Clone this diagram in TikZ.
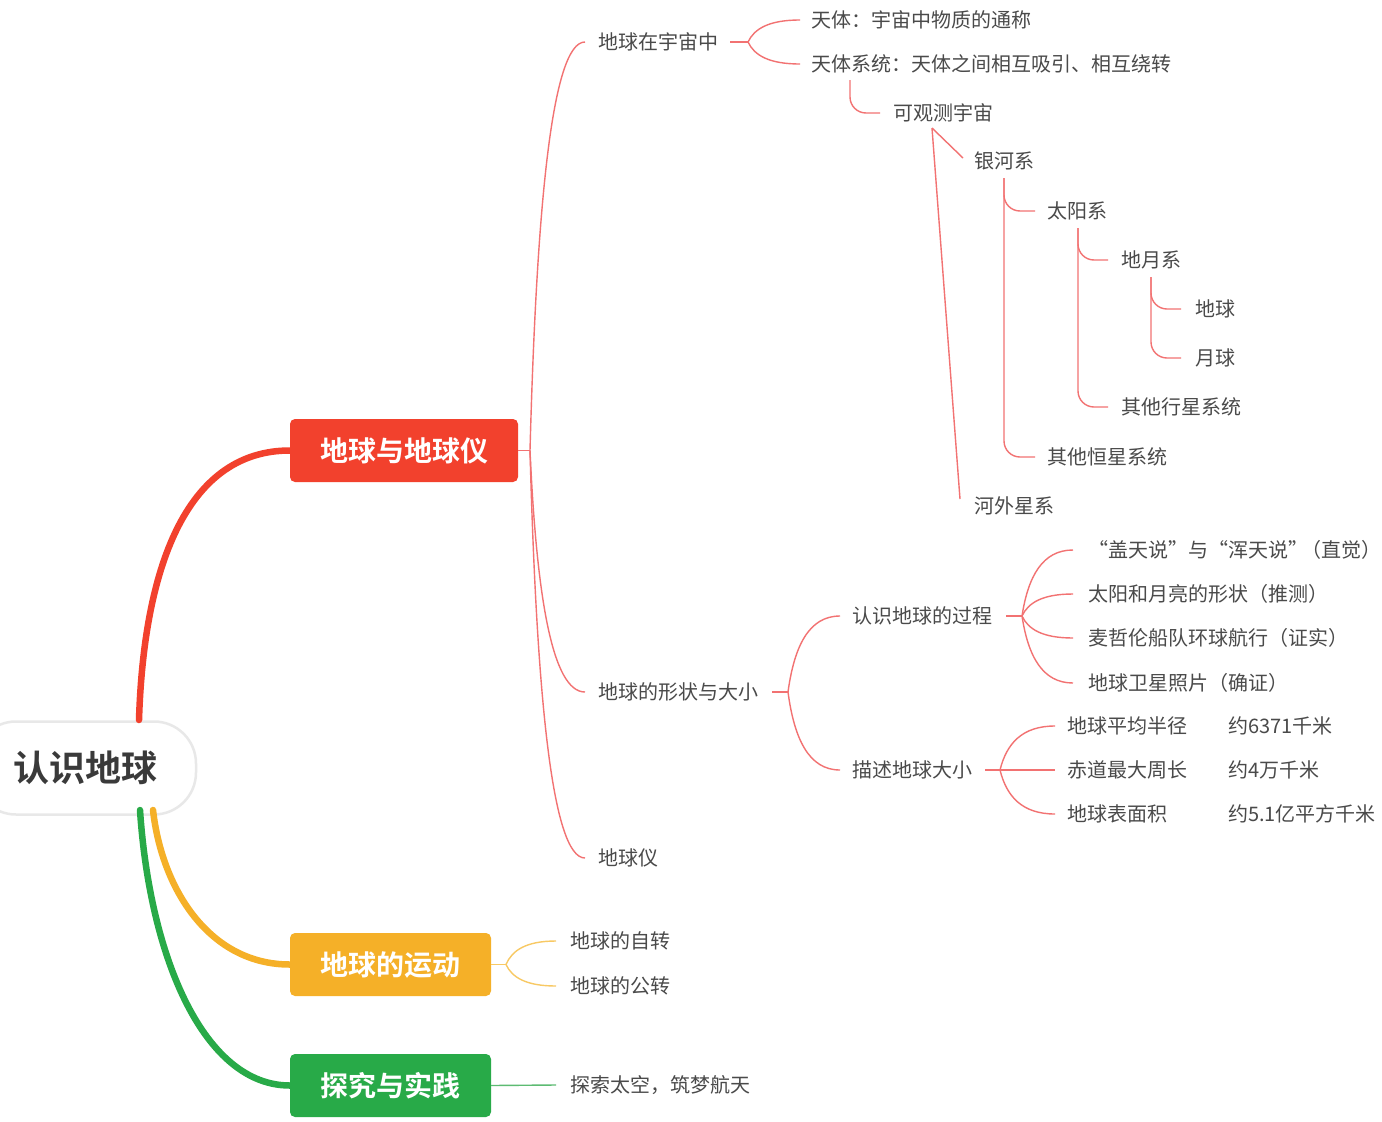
\documentclass[tikz,border=0pt]{standalone}
\usepackage{fontspec}
\setmainfont{Noto Sans CJK SC}[BoldFont={Noto Sans CJK SC Bold}]
\usetikzlibrary{calc}
\definecolor{mmred}{HTML}{F2412D}
\definecolor{thinred}{HTML}{F27272}
\definecolor{mmorange}{HTML}{F5B028}
\definecolor{thinorange}{HTML}{F8C964}
\definecolor{mmgreen}{HTML}{28AA48}
\definecolor{thingreen}{HTML}{5DBB72}
\definecolor{txtgray}{HTML}{4A4A4A}
\definecolor{roottxt}{HTML}{3A3A3A}
\tikzset{
  lbl/.style={anchor=west, inner sep=0pt, font=\fontsize{20}{24}\selectfont, text=txtgray, text height=16.6pt, text depth=1.4pt},
  rootbox/.style={draw=black!9, line width=2.5pt, fill=white, rounded corners=42pt, minimum width=222pt, minimum height=93pt, inner sep=0pt, font=\bfseries\fontsize{36}{40}\selectfont, text=roottxt, text height=30pt, text depth=2.5pt},
  boxnode/.style={rounded corners=5pt, inner sep=0pt, minimum height=63pt, text=white, font=\bfseries\fontsize{28}{32}\selectfont, text height=23pt, text depth=2pt},
  rline/.style={draw=thinred, line width=1.4pt},
  oline/.style={draw=thinorange, line width=1.4pt},
  gline/.style={draw=thingreen, line width=1.4pt},
  thick/.style={line width=6.5pt, line cap=round}
}
\newcommand\mmedge[3][rline]{\draw[#1] let \p1=(#2), \p2=(#3) in (\p1) .. controls ({\x1+0.12*(\x2-\x1)},{\y1+0.6*(\y2-\y1)}) and ({\x1+0.4*(\x2-\x1)},\y2) .. (\p2);}
\newcommand\mmL[2]{\draw[rline, rounded corners=16pt] (#1) |- (#2);}
\begin{document}
\begin{tikzpicture}[x=1pt,y=-1pt]
\useasboundingbox[fill=white] (0,0) rectangle (1382,1122);
% root and main boxes
\node[rootbox] (root) at (85,768) {认识地球};
\node[boxnode, fill=mmred, minimum width=228pt] (b1) at (404,450.5) {地球与地球仪};
\node[boxnode, fill=mmorange, minimum width=201pt] (b2) at (390.5,964.5) {地球的运动};
\node[boxnode, fill=mmgreen, minimum width=201pt] (b3) at (390.5,1085.5) {探究与实践};
% thick connectors
\coordinate (rT) at (139,720);
\coordinate (rO) at (153,810);
\coordinate (rG) at (140,810);
\draw[thick, mmgreen] (rG) .. controls (150,960) and (205,1085.5) .. (b3.west);
\draw[thick, mmorange] (rO) .. controls (162,890) and (210,964.5) .. (b2.west);
\draw[thick, mmred] (rT) .. controls (144,560) and (190,450.5) .. (b1.west);
% labels
\node[lbl] (n1) at (598,42) {地球在宇宙中};
\node[lbl] (n11) at (811,20) {天体：宇宙中物质的通称};
\node[lbl] (n12) at (811,64) {天体系统：天体之间相互吸引、相互绕转};
\node[lbl] (n121) at (893,113) {可观测宇宙};
\node[lbl] (n1211) at (974,161) {银河系};
\node[lbl] (n12111) at (1047,211) {太阳系};
\node[lbl] (n121111) at (1121,260) {地月系};
\node[lbl] (e1) at (1195,309) {地球};
\node[lbl] (e2) at (1195,358) {月球};
\node[lbl] (n121112) at (1121,407) {其他行星系统};
\node[lbl] (n12112) at (1047,457) {其他恒星系统};
\node[lbl] (n1212) at (974,506) {河外星系};
\node[lbl] (n2) at (598,692) {地球的形状与大小};
\node[lbl] (n21) at (852,616) {认识地球的过程};
\node[lbl] (p1) at (1088,550) {“盖天说”与“浑天说”\kern-7pt（直觉）};
\node[lbl] (p2) at (1088,594) {太阳和月亮的形状（推测）};
\node[lbl] (p3) at (1088,638) {麦哲伦船队环球航行（证实）};
\node[lbl] (p4) at (1088,683) {地球卫星照片（确证）};
\node[lbl] (n22) at (852,770) {描述地球大小};
\node[lbl] (s1) at (1067,726) {\makebox[161pt][l]{地球平均半径}约6371千米};
\node[lbl] (s2) at (1067,770) {\makebox[161pt][l]{赤道最大周长}约4万千米};
\node[lbl] (s3) at (1067,814) {\makebox[161pt][l]{地球表面积}约5.1亿平方千米};
\node[lbl] (n3) at (598,858) {地球仪};
\node[lbl] (m1) at (570,941) {地球的自转};
\node[lbl] (m2) at (570,986) {地球的公转};
\node[lbl] (x1) at (570,1085) {探索太空，筑梦航天};
% junctions
\coordinate (jA) at (530,450.5);
\coordinate (jB) at (748,42);
\coordinate (jC) at (788,692);
\coordinate (jD) at (1022,616);
\coordinate (jE) at (1000,770);
\coordinate (jF) at (506,964.5);
\coordinate (c12) at (850,80);
\coordinate (c121) at (932,128);
\coordinate (c1211) at (1004,178);
\coordinate (c12111) at (1078,228);
\coordinate (c121111) at (1151,277);
% red branches
\draw[rline] (b1.east) -- (jA);
\mmedge{jA}{[xshift=-13pt]n1.west}
\mmedge{jA}{[xshift=-13pt]n2.west}
\mmedge{jA}{[xshift=-13pt]n3.west}
\draw[rline] ([xshift=12pt]n1.east) -- (jB);
\mmedge{jB}{[xshift=-11pt]n11.west}
\mmedge{jB}{[xshift=-11pt]n12.west}
\mmL{c12}{[xshift=-13pt]n121.west}
\draw[rline] (c121) -- ([xshift=-11pt,yshift=3pt]n1211.west);
\draw[rline] (c121) -- ([xshift=-14pt,yshift=7pt]n1212.west);
\mmL{c1211}{[xshift=-12pt]n12111.west}
\mmL{c1211}{[xshift=-12pt]n12112.west}
\mmL{c12111}{[xshift=-13pt]n121111.west}
\mmL{c12111}{[xshift=-13pt]n121112.west}
\mmL{c121111}{[xshift=-14pt]e1.west}
\mmL{c121111}{[xshift=-14pt]e2.west}
\draw[rline] ([xshift=14pt]n2.east) -- (jC);
\mmedge{jC}{[xshift=-12pt]n21.west}
\mmedge{jC}{[xshift=-12pt]n22.west}
\draw[rline] ([xshift=14pt]n21.east) -- (jD);
\mmedge{jD}{[xshift=-15pt]p1.west}
\mmedge{jD}{[xshift=-15pt]p2.west}
\mmedge{jD}{[xshift=-15pt]p3.west}
\mmedge{jD}{[xshift=-15pt]p4.west}
\draw[rline] ([xshift=13pt]n22.east) -- (jE);
\mmedge{jE}{[xshift=-12pt]s1.west}
\draw[rline] (jE) -- ([xshift=-12pt]s2.west);
\mmedge{jE}{[xshift=-12pt]s3.west}
% orange and green branches
\draw[oline] (b2.east) -- (jF);
\mmedge[oline]{jF}{[xshift=-14pt]m1.west}
\mmedge[oline]{jF}{[xshift=-14pt]m2.west}
\draw[gline] (b3.east) -- ([xshift=-14pt]x1.west);
\end{tikzpicture}
\end{document}
